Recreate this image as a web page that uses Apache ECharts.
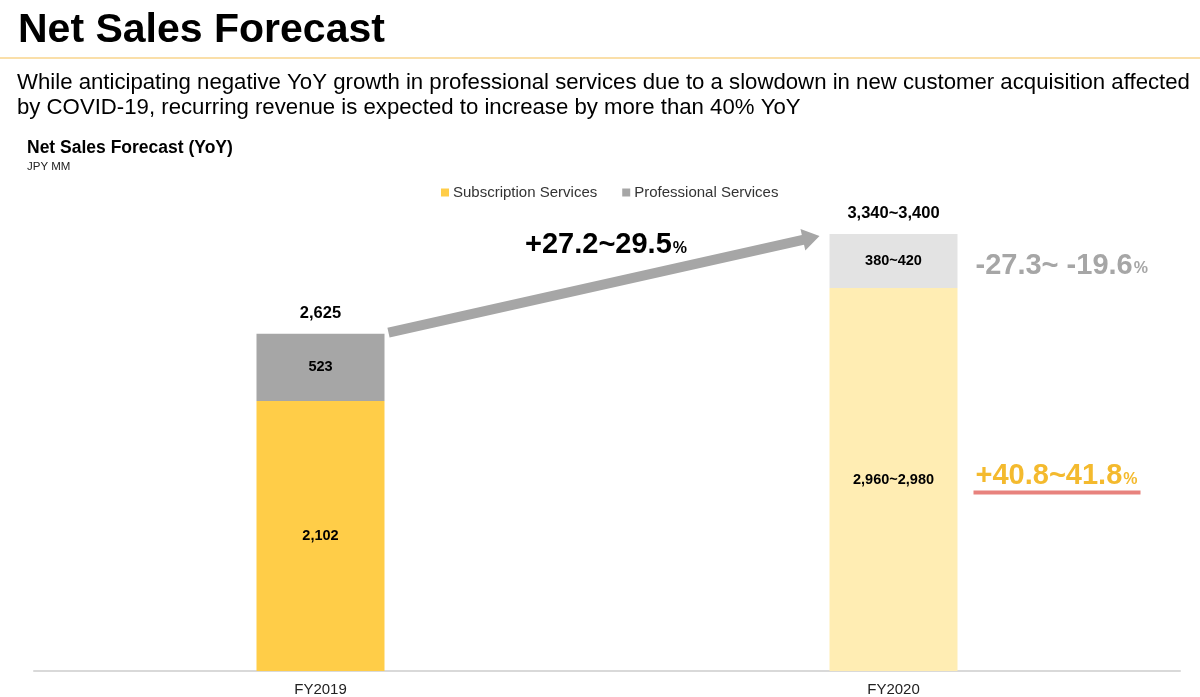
<!DOCTYPE html>
<html>
<head>
<meta charset="utf-8">
<script src="https://cdn.jsdelivr.net/npm/echarts@6/dist/echarts.min.js"></script>
<style>
html,body{margin:0;padding:0;background:#fff;}
#chart{width:1200px;height:697px;}
</style>
</head>
<body>
<div id="chart"></div>
<script>
// ---- data ----
const categories = ['FY2019', 'FY2020'];
const subscription = [2102, 2980];
const professional = [523, 420];
const subscriptionLabels = ['2,102', '2,960~2,980'];
const professionalLabels = ['523', '380~420'];
const totalLabels = ['2,625', '3,340~3,400'];
const growthTotal = '+27.2~29.5';
const growthProfessional = '-27.3~ -19.6';
const growthSubscription = '+40.8~41.8';

const FONT = '"Liberation Sans", Arial, Helvetica, sans-serif';
const subColors = ['#FFCD48', '#FFEDB3'];
const profColors = ['#A6A6A6', '#E3E3E3'];

const chart = echarts.init(document.getElementById('chart'));

const option = {
  backgroundColor: '#fff',
  animation: false,
  textStyle: { fontFamily: FONT },
  title: [
    { text: 'Net Sales Forecast', left: 18, top: 10, padding: 0,
      textStyle: { fontFamily: FONT, fontSize: 41, fontWeight: 'bold', color: '#000', lineHeight: 42 } },
    { text: 'While anticipating negative YoY growth in professional services due to a slowdown in new customer acquisition affected\nby COVID-19, recurring revenue is expected to increase by more than 40% YoY',
      left: 17, top: 70, padding: 0,
      textStyle: { fontFamily: FONT, fontSize: 22.2, fontWeight: 'normal', color: '#000', lineHeight: 25 } },
    { text: 'Net Sales Forecast (YoY)', left: 27, top: 139, padding: 0,
      textStyle: { fontFamily: FONT, fontSize: 17.5, fontWeight: 'bold', color: '#000', lineHeight: 18 } },
    { text: 'JPY MM', left: 27, top: 161, padding: 0,
      textStyle: { fontFamily: FONT, fontSize: 11.5, fontWeight: 'normal', color: '#222', lineHeight: 12 } }
  ],
  legend: {
    left: 441, top: 185, padding: 0,
    itemWidth: 8, itemHeight: 8, itemGap: 25, icon: 'rect',
    textStyle: { fontFamily: FONT, fontSize: 15, color: '#333', padding: [0, 0, 0, -1] },
    data: ['Subscription Services', 'Professional Services']
  },
  grid: { left: 34, right: 20, top: 157, bottom: 26, containLabel: false },
  xAxis: {
    type: 'category', data: categories,
    axisLine: { lineStyle: { color: '#D9D9D9', width: 2 } },
    axisTick: { show: false },
    axisLabel: { fontFamily: FONT, fontSize: 15, color: '#222', margin: 11 }
  },
  yAxis: { type: 'value', min: 0, max: 4000, show: false, splitLine: { show: false } },
  series: [
    {
      name: 'Subscription Services', type: 'bar', stack: 'total', barWidth: 128,
      itemStyle: { color: subColors[0] },
      data: subscription.map((v, i) => ({ value: v, itemStyle: { color: subColors[i] } })),
      label: { show: true, position: 'inside', fontFamily: FONT, fontSize: 14.5, fontWeight: 'bold', color: '#000',
        formatter: p => subscriptionLabels[p.dataIndex] }
    },
    {
      name: 'Professional Services', type: 'bar', stack: 'total', barWidth: 128,
      itemStyle: { color: profColors[0] },
      data: professional.map((v, i) => ({ value: v, itemStyle: { color: profColors[i] } })),
      label: { show: true, position: 'inside', fontFamily: FONT, fontSize: 14.5, fontWeight: 'bold', color: '#000',
        formatter: p => professionalLabels[p.dataIndex] }
    },
    {
      name: 'Total', type: 'bar', stack: 'total', barWidth: 128, silent: true,
      itemStyle: { color: 'transparent' },
      data: categories.map(() => 0),
      label: { show: true, position: 'top', distance: 12, fontFamily: FONT, fontSize: 16.5, fontWeight: 'bold', color: '#000',
        formatter: p => totalLabels[p.dataIndex] }
    }
  ]
};
chart.setOption(option);

// ---- annotations anchored to data positions ----
function px(cat, val) { return chart.convertToPixel({ xAxisIndex: 0, yAxisIndex: 0 }, [cat, val]); }
const halfBar = 64;
const tot0 = subscription[0] + professional[0];
const tot1 = subscription[1] + professional[1];
const a = px(categories[0], tot0);
const b = px(categories[1], tot1);
const start = [a[0] + halfBar + 4, a[1] - 1];
const tip = [b[0] - halfBar - 10, b[1] + 2];
const dx = tip[0] - start[0], dy = tip[1] - start[1];
const len = Math.hypot(dx, dy);
const ux = dx / len, uy = dy / len, nx = -uy, ny = ux;
const bodyHalf = 5, headHalf = 11, headLen = 17;
const base = [tip[0] - ux * headLen, tip[1] - uy * headLen];
const arrowPts = [
  [start[0] + nx * bodyHalf, start[1] + ny * bodyHalf],
  [base[0] + nx * bodyHalf, base[1] + ny * bodyHalf],
  [base[0] + nx * headHalf, base[1] + ny * headHalf],
  tip,
  [base[0] - nx * headHalf, base[1] - ny * headHalf],
  [base[0] - nx * bodyHalf, base[1] - ny * bodyHalf],
  [start[0] - nx * bodyHalf, start[1] - ny * bodyHalf]
];

const profMid = px(categories[1], subscription[1] + professional[1] / 2);
const subMid = px(categories[1], subscription[1] / 2 + 40);
const rightX = b[0] + halfBar + 18;

function pctText(main, color, x, y, align) {
  return {
    type: 'text', x: x, y: y,
    style: {
      text: '{m|' + main + '}{p|%}',
      align: align || 'left', verticalAlign: 'middle',
      rich: {
        m: { fontFamily: FONT, fontSize: 29, fontWeight: 'bold', fill: color, verticalAlign: 'bottom', lineHeight: 32 },
        p: { fontFamily: FONT, fontSize: 16, fontWeight: 'bold', fill: color, verticalAlign: 'bottom', lineHeight: 16, padding: [0, 0, 3, 1] }
      }
    }
  };
}

chart.setOption({
  graphic: [
    { type: 'line', shape: { x1: 0, y1: 58, x2: 1200, y2: 58 }, style: { stroke: '#F9D58C', lineWidth: 1.5 } },
    { type: 'polygon', shape: { points: arrowPts }, style: { fill: '#A6A6A6' } },
    pctText(growthTotal, '#000', (start[0] + tip[0]) / 2 + 2, (start[1] + tip[1]) / 2 - 41, 'center'),
    pctText(growthProfessional, '#A6A6A6', rightX, profMid[1] + 3),
    pctText(growthSubscription, '#F4BA2E', rightX, subMid[1]),
    { type: 'line', shape: { x1: rightX - 2, y1: subMid[1] + 18, x2: rightX + 165, y2: subMid[1] + 18 },
      style: { stroke: '#E8827D', lineWidth: 4 } }
  ]
});
</script>
</body>
</html>
